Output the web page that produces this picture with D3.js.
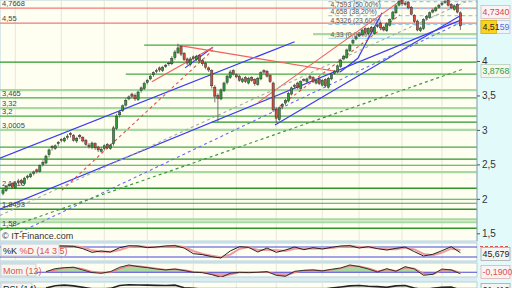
<!DOCTYPE html>
<html>
<head>
<meta charset="utf-8">
<script src="https://cdn.jsdelivr.net/npm/d3@7"></script>
<style>
  html, body { margin: 0; padding: 0; background: #fff; }
  svg { display: block; font-family: "Liberation Sans", Arial, sans-serif; }
</style>
</head>
<body>
<div id="chart"></div>
<script>
// ---- price data (one candle per session) ----
const opens = [2.08,2.12,2.19,2.22,2.16,2.24,2.27,2.22,2.31,2.32,
  2.37,2.42,2.40,2.50,2.52,2.64,2.76,2.73,2.80,2.86,
  2.84,2.89,2.95,2.92,2.84,2.92,2.89,2.85,2.78,2.75,
  2.80,2.75,2.69,2.73,2.79,2.73,2.80,3.02,3.22,3.28,
  3.36,3.45,3.52,3.50,3.44,3.57,3.60,3.69,3.74,3.80,
  3.85,3.90,3.86,3.92,3.96,3.96,4.05,4.12,4.21,4.11,
  4.03,3.95,4.06,4.02,4.08,4.01,3.97,3.90,3.86,3.62,
  3.50,3.45,3.57,3.69,3.76,3.86,3.80,3.78,3.70,3.76,
  3.68,3.76,3.73,3.66,3.74,3.86,3.85,3.79,3.68,3.30,
  3.15,3.34,3.39,3.42,3.52,3.63,3.68,3.60,3.73,3.70,
  3.78,3.76,3.68,3.74,3.65,3.73,3.62,3.74,3.82,3.84,
  3.92,4.03,4.05,4.15,4.26,4.32,4.37,4.38,4.47,4.40,
  4.49,4.40,4.50,4.55,4.49,4.44,4.52,4.61,4.70,4.81,
  4.88,4.82,4.85,4.78,4.66,4.58,4.44,4.47,4.62,4.63,
  4.71,4.73,4.78,4.82,4.85,4.88,4.82,4.75,4.82,4.70];
const closes = [2.13,2.18,2.21,2.17,2.23,2.26,2.23,2.30,2.33,2.36,
  2.39,2.40,2.48,2.53,2.62,2.71,2.74,2.77,2.82,2.85,
  2.88,2.91,2.93,2.85,2.88,2.90,2.84,2.79,2.76,2.81,
  2.74,2.71,2.72,2.77,2.74,2.78,3.03,3.20,3.26,3.35,
  3.43,3.48,3.49,3.45,3.55,3.61,3.67,3.72,3.78,3.83,
  3.86,3.87,3.91,3.94,3.97,4.04,4.13,4.19,4.10,4.02,
  3.97,4.03,4.04,4.07,4.00,3.96,3.91,3.87,3.64,3.49,
  3.46,3.58,3.68,3.78,3.84,3.81,3.77,3.72,3.74,3.70,
  3.75,3.72,3.67,3.75,3.83,3.84,3.78,3.70,3.29,3.17,
  3.32,3.37,3.43,3.53,3.61,3.65,3.62,3.70,3.72,3.74,
  3.75,3.70,3.72,3.67,3.72,3.64,3.75,3.81,3.85,3.93,
  4.01,4.07,4.16,4.23,4.30,4.35,4.39,4.45,4.41,4.47,
  4.42,4.49,4.52,4.48,4.45,4.54,4.60,4.71,4.80,4.86,
  4.83,4.84,4.77,4.68,4.57,4.45,4.48,4.60,4.65,4.70,
  4.74,4.77,4.81,4.84,4.86,4.81,4.77,4.80,4.71,4.51];
const highs = [2.16,2.20,2.24,2.24,2.25,2.29,2.29,2.32,2.35,2.38,
  2.41,2.44,2.50,2.56,2.64,2.73,2.78,2.79,2.84,2.88,
  2.90,2.94,2.97,2.94,2.90,2.94,2.91,2.87,2.81,2.83,
  2.82,2.77,2.75,2.79,2.81,2.80,3.06,3.23,3.29,3.37,
  3.46,3.50,3.54,3.53,3.57,3.63,3.70,3.74,3.80,3.85,
  3.89,3.92,3.93,3.96,3.99,4.07,4.16,4.25,4.23,4.13,
  4.05,4.06,4.08,4.09,4.10,4.03,3.99,3.92,3.88,3.65,
  3.53,3.60,3.70,3.80,3.87,3.88,3.82,3.80,3.76,3.78,
  3.77,3.78,3.75,3.77,3.85,3.88,3.87,3.81,3.70,3.33,
  3.34,3.39,3.45,3.55,3.63,3.67,3.70,3.72,3.75,3.76,
  3.80,3.78,3.74,3.76,3.74,3.75,3.77,3.83,3.87,3.95,
  4.03,4.09,4.18,4.25,4.32,4.37,4.41,4.47,4.49,4.49,
  4.51,4.51,4.54,4.57,4.51,4.56,4.62,4.73,4.82,4.89,
  4.92,4.87,4.87,4.80,4.68,4.60,4.50,4.62,4.67,4.72,
  4.76,4.79,4.83,4.86,4.89,4.91,4.84,4.82,4.84,4.72];
const lows = [2.05,2.10,2.17,2.14,2.14,2.21,2.20,2.20,2.28,2.30,
  2.34,2.37,2.38,2.47,2.50,2.60,2.70,2.71,2.77,2.82,
  2.82,2.86,2.89,2.83,2.81,2.87,2.82,2.77,2.73,2.72,
  2.71,2.68,2.67,2.70,2.72,2.71,2.77,3.00,3.18,3.26,
  3.34,3.43,3.46,3.42,3.42,3.54,3.58,3.66,3.72,3.77,
  3.82,3.84,3.84,3.90,3.93,3.94,4.02,4.10,4.07,4.00,
  3.94,3.92,4.01,4.00,3.97,3.93,3.88,3.84,3.60,3.40,
  3.12,3.43,3.55,3.66,3.74,3.79,3.75,3.70,3.68,3.68,
  3.66,3.70,3.64,3.64,3.72,3.81,3.76,3.68,3.26,3.10,
  3.13,3.30,3.36,3.40,3.50,3.60,3.59,3.58,3.70,3.68,
  3.73,3.68,3.66,3.65,3.63,3.62,3.60,3.72,3.80,3.82,
  3.90,4.01,4.03,4.13,4.24,4.30,4.35,4.36,4.39,4.38,
  4.40,4.38,4.48,4.46,4.43,4.42,4.50,4.59,4.68,4.79,
  4.80,4.80,4.75,4.66,4.55,4.43,4.42,4.45,4.59,4.61,
  4.69,4.71,4.76,4.80,4.83,4.79,4.75,4.73,4.69,4.45];

// month separators (candle index)
const gridIdx = [4, 19, 33, 47, 62, 76, 89, 104, 116, 130, 143];

// horizontal support / resistance levels
const hVals = [4.7668, 4.55, 4.39, 4.23, 3.985, 3.81, 3.578, 3.465, 3.317, 3.20, 3.113, 3.0005,
  2.75, 2.576, 2.488, 2.387, 2.154, 1.994, 1.936, 1.849, 1.703, 1.660, 1.573];
const hFrom = [0, 0, 101, 46, 0, 40, 0, 0, 0, 0, 68, 0, 0, 0, 0, 0, 0, 0, 0, 0, 0, 0, 0];
const hKind = ['res', 'res', 'zone', 'sup', 'major', 'sup', 'zone', 'sup', 'zone', 'sup', 'major', 'zone',
  'sup', 'major', 'sup', 'zone', 'major', 'sup', 'sup', 'major', 'zone', 'zone', 'major'];

// labelled levels on the left
const lvlLabels = ['4,7668', '4,55', '3,465', '3,32', '3,2', '3,0005', '2,1616', '1,8493', '1,58'];
const lvlValues = [4.7668, 4.55, 3.465, 3.32, 3.2, 3.0005, 2.154, 1.849, 1.573];

// fibonacci retracement
const fibVals = [4.8607, 4.7593, 4.658, 4.5326, 4.33];
const fibText = ['4,8607 (61,80%)', '4,7593 (50,00%)', '4,658 (38,20%)', '4,5326 (23,60%)', '4,33 (0,00%)'];
const fibFrom = 106;

// trend lines: [[idx, price], [idx, price]]
const trendLines = [
  { kind: 'blue', pts: [[-1, 2.59], [95, 4.28]] },
  { kind: 'blue', pts: [[-1, 1.85], [149.5, 4.60]] },
  { kind: 'blue', pts: [[88.6, 3.07], [149.5, 4.67]] },
  { kind: 'blue', pts: [[59.3, 3.90], [68.4, 4.20]] },
  { kind: 'blue', pts: [[109.8, 3.84], [115.6, 4.04], [123.5, 4.70]] },
  { kind: 'red', pts: [[56.7, 4.23], [109.8, 3.84]] },
  { kind: 'red', pts: [[83.1, 3.40], [130, 4.89]] },
  { kind: 'red', pts: [[48.5, 3.70], [68.4, 4.20]] },
  { kind: 'redDash', pts: [[19.2, 2.125], [68.4, 4.16]] },
  { kind: 'redDash', pts: [[88.6, 3.29], [129.3, 4.67]] },
  { kind: 'greyDash', pts: [[-1, 1.76], [152, 4.887]] },
  { kind: 'blueDash', pts: [[5.5, 1.515], [149.5, 4.567]] },
  { kind: 'greenDash', pts: [[-1, 1.544], [149.5, 3.8768]] }
];

// indicators
const stochIdx = d3.range(17, 150, 3);
const stochK = [86,86,84,70,48,56,50,76,88,86, 76,80,86,88,74,40,34,22,14,56,
  82,78,50,74,48,62,80,64,76,68, 78,86,88,74,82,70,62,72,80,52, 26,36,58,82,46];
const stochD = [84,86,85,78,60,52,52,62,80,86, 80,78,83,87,80,56,38,28,18,34,
  68,80,62,62,60,56,70,72,70,72, 74,82,87,80,78,76,66,66,76,66, 38,30,46,70,62];
const momIdx = d3.range(14, 150, 3);
const mom = [0.09,0.49,0.62,0.67,0.31,-0.04,-0.13,0.09,0.67,0.98,
  0.76,0.62,0.44,0.31,0.44,0.22,0,-0.04,-0.31,-0.67,
  -0.13,0,-0.04,0,0.09,-0.4,-0.53,0.13,0.27,0.31,
  0.18,0.4,0.58,0.98,0.76,0.44,0.04,0.49,0.13,0.76,
  0.44,-0.4,-0.27,0.44,0.31,-0.19];
const momSig = [0.05,0.3,0.55,0.65,0.45,0.1,-0.08,0.0,0.45,0.85,
  0.85,0.68,0.52,0.36,0.4,0.3,0.08,-0.02,-0.22,-0.55,
  -0.3,-0.05,-0.02,-0.01,0.06,-0.25,-0.48,-0.05,0.2,0.3,
  0.22,0.33,0.52,0.85,0.82,0.55,0.15,0.38,0.2,0.6,
  0.52,-0.15,-0.3,0.25,0.35,-0.05];
const rsi = [72,85,88,84,76,68,66,70,86,90, 89,88,87,86,88,74,70,66,52,50,
  60,64,62,60,66,48,52,62,66,67, 64,72,78,84,86,82,80,76,84,86, 72,62,70,76,78,61];

// ---- layout ----
const W = 512, H = 288;
const plotR = 477;
const main = { top: 0, bot: 241 };
const pStoch = { top: 243, bot: 261 };
const pMom = { top: 263, bot: 277 };
const pRsi = { top: 282, bot: 300 };

const fmt = d => String(d).replace('.', ',');

const svg = d3.select('#chart').append('svg')
  .attr('width', W)
  .attr('height', H);

const defs = svg.append('defs');
function clip(id, y0, y1) {
  defs.append('clipPath').attr('id', id)
    .append('rect').attr('x', 0).attr('y', y0).attr('width', plotR).attr('height', y1 - y0);
}
clip('cMain', main.top, main.bot);
clip('cStoch', pStoch.top, pStoch.bot);
clip('cMom', pMom.top, pMom.bot);
clip('cRsi', pRsi.top, pRsi.bot);
defs.append('clipPath').attr('id', 'cMomUp').append('rect')
  .attr('x', 0).attr('y', pMom.top).attr('width', plotR).attr('height', 272.3 - pMom.top);
defs.append('clipPath').attr('id', 'cMomDn').append('rect')
  .attr('x', 0).attr('y', 272.3).attr('width', plotR).attr('height', pMom.bot - 272.3);

// backgrounds
svg.append('rect').attr('width', W).attr('height', H).attr('fill', '#d9edf3');
svg.append('rect').attr('x', plotR).attr('y', 0).attr('width', W - plotR).attr('height', H).attr('fill', '#e3fafb');
[main, pStoch, pMom, pRsi].forEach(p => {
  svg.append('rect').attr('x', 0).attr('y', p.top).attr('width', plotR).attr('height', p.bot - p.top)
    .attr('fill', '#fefef1').attr('stroke', '#b6d2de').attr('stroke-width', 1);
});

// scales
const x = d3.scaleLinear().domain([0, 149]).range([3, 460.4]);
const y = d3.scaleLinear().domain([1.5, 4]).range([233.3, 61]);
const yS = d3.scaleLinear().domain([0, 100]).range([260.3, 243.7]);
const yM = d3.scaleLinear().domain([-1, 1]).range([279.8, 264.8]);
const yR = d3.scaleLinear().domain([0, 100]).range([301, 283]);

// vertical grid
[[main, 'cMain'], [pStoch, 'cStoch'], [pMom, 'cMom'], [pRsi, 'cRsi']].forEach(([p, c]) => {
  svg.append('g').attr('clip-path', `url(#${c})`).selectAll('line').data(gridIdx).enter().append('line')
    .attr('x1', d => x(d)).attr('x2', d => x(d))
    .attr('y1', p.top).attr('y2', p.bot)
    .attr('stroke', '#e6e6da').attr('stroke-width', 1);
});

const gMain = svg.append('g').attr('clip-path', 'url(#cMain)');

// horizontal levels
const hStyle = {
  res: { c: '#f07a7a', w: 1.2 },
  zone: { c: '#a9d9a3', w: 2.2 },
  sup: { c: '#46a846', w: 1.1 },
  major: { c: '#2c962c', w: 1.3 }
};
gMain.selectAll('line.h').data(hVals).enter().append('line')
  .attr('x1', (d, i) => hFrom[i] ? x(hFrom[i]) : 0)
  .attr('x2', plotR)
  .attr('y1', d => y(d)).attr('y2', d => y(d))
  .attr('stroke', (d, i) => hStyle[hKind[i]].c)
  .attr('stroke-width', (d, i) => hStyle[hKind[i]].w);

// fibonacci levels
gMain.selectAll('line.fib').data(fibVals).enter().append('line')
  .attr('x1', x(fibFrom)).attr('x2', plotR)
  .attr('y1', d => y(d)).attr('y2', d => y(d))
  .attr('stroke', '#8dd0f2').attr('stroke-width', 1.2)
  .attr('stroke-dasharray', (d, i) => i === fibVals.length - 1 ? null : '4,3');
gMain.selectAll('text.fib').data(fibText).enter().append('text')
  .attr('x', x(fibFrom) + 2).attr('y', (d, i) => y(fibVals[i]) - 1.5)
  .attr('font-size', 6.8).attr('fill', '#555').text(d => d);

// trend lines
const tStyle = {
  blue: { c: '#3c3cf0', w: 1.2, dash: null },
  red: { c: '#f06060', w: 1.1, dash: null },
  redDash: { c: '#e05050', w: 1.1, dash: '3,3' },
  greyDash: { c: '#a8a8a8', w: 1.1, dash: '3,3' },
  blueDash: { c: '#6a6af0', w: 1.1, dash: '3,3' },
  greenDash: { c: '#3a9a3a', w: 1.2, dash: '3,3' }
};
const tline = d3.line().x(d => x(d[0])).y(d => y(d[1]));
gMain.selectAll('path.trend').data(trendLines).enter().append('path')
  .attr('d', d => tline(d.pts))
  .attr('fill', 'none')
  .attr('stroke', d => tStyle[d.kind].c)
  .attr('stroke-width', d => tStyle[d.kind].w)
  .attr('stroke-dasharray', d => tStyle[d.kind].dash);

// level labels (left)
gMain.selectAll('text.lvl').data(lvlLabels).enter().append('text')
  .attr('x', 2).attr('y', (d, i) => y(lvlValues[i]) - 2)
  .attr('font-size', 7.5).attr('fill', '#444').text(d => d);

// candles
const candles = closes.map((c, i) => ({ i, o: opens[i], h: highs[i], l: lows[i], c }));
const cg = gMain.selectAll('g.candle').data(candles).enter().append('g');
cg.append('line')
  .attr('x1', d => x(d.i)).attr('x2', d => x(d.i))
  .attr('y1', d => y(d.h)).attr('y2', d => y(d.l))
  .attr('stroke', '#555').attr('stroke-width', 0.8);
cg.append('rect')
  .attr('x', d => x(d.i) - 1.1).attr('width', 2.2)
  .attr('y', d => y(Math.max(d.o, d.c)))
  .attr('height', d => Math.max(0.8, Math.abs(y(d.o) - y(d.c))))
  .attr('fill', d => d.c >= d.o ? '#2f9a3a' : '#d24a3c')
  .attr('stroke', '#333').attr('stroke-width', 0.5);

svg.append('text').attr('x', 2).attr('y', 239).attr('font-size', 9).attr('fill', '#333')
  .text('\u00a9 IT-Finance.com');

// right axis
const axis = svg.append('g').attr('transform', `translate(${plotR},0)`)
  .call(d3.axisRight(y).tickValues([1.5, 2, 2.5, 3, 3.5, 4]).tickSize(3).tickFormat(fmt));
axis.select('.domain').attr('stroke', '#9ab').attr('d', `M0,${main.top}V${main.bot}`);
axis.selectAll('.tick line').attr('stroke', '#555');
axis.selectAll('.tick text').attr('font-size', 10).attr('fill', '#333').attr('x', 5);

function valueBox(yc, label, fill, stroke, color) {
  svg.append('rect').attr('x', 481).attr('y', yc - 6.5).attr('width', 29).attr('height', 13)
    .attr('fill', fill).attr('stroke', stroke).attr('stroke-width', 0.8);
  svg.append('text').attr('x', 482.5).attr('y', yc + 3.2).attr('font-size', 8.8)
    .attr('fill', color).text(label);
}
valueBox(12, '4,7340', '#fbf3f3', '#d9b9b9', '#d04848');
// last price box: highlighted part plus trailing digits
svg.append('rect').attr('x', 481).attr('y', 20.5).attr('width', 29).attr('height', 13)
  .attr('fill', '#eef4fb').attr('stroke', '#b8c8d8').attr('stroke-width', 0.8);
svg.append('rect').attr('x', 481).attr('y', 20.5).attr('width', 15.5).attr('height', 13)
  .attr('fill', '#ffd21a').attr('stroke', '#d8b000').attr('stroke-width', 0.8);
const lp = svg.append('text').attr('x', 482.5).attr('y', 30.2).attr('font-size', 8.8);
lp.append('tspan').attr('fill', '#222').text('4,51');
lp.append('tspan').attr('fill', '#5a6fd0').text('59');
valueBox(71, '3,8768', '#f2f8f0', '#b8ccb8', '#3a9a3a');

// ---- stochastic panel ----
const gS = svg.append('g').attr('clip-path', 'url(#cStoch)');
[80, 20].forEach(v => gS.append('line').attr('x1', 0).attr('x2', plotR)
  .attr('y1', yS(v)).attr('y2', yS(v)).attr('stroke', '#4848e0').attr('stroke-width', 1.1));
const lS = d3.line().x((d, i) => x(stochIdx[i])).y(d => yS(d));
gS.append('path').attr('d', lS(stochD)).attr('fill', 'none').attr('stroke', '#f29a9a').attr('stroke-width', 2);
gS.append('path').attr('d', lS(stochK)).attr('fill', 'none').attr('stroke', '#222').attr('stroke-width', 1);

svg.append('rect').attr('x', 1).attr('y', 244).attr('width', 58).attr('height', 12)
  .attr('fill', '#f6f6f2').attr('stroke', '#c8c8c8').attr('stroke-width', 0.8);
const st = svg.append('text').attr('x', 3).attr('y', 253.5).attr('font-size', 9);
st.append('tspan').attr('fill', '#222').text('%K ');
st.append('tspan').attr('fill', '#e05050').text('%D (14 3 5)');

svg.append('line').attr('x1', 480).attr('x2', 510).attr('y1', 246.5).attr('y2', 246.5)
  .attr('stroke', '#e05050').attr('stroke-dasharray', '3,2');
valueBox(254, '45,679', '#f4f4f2', '#a8a8a8', '#222');

// ---- momentum panel ----
const gM = svg.append('g').attr('clip-path', 'url(#cMom)');
const aM = d3.area().x((d, i) => x(momIdx[i])).y0(yM(0)).y1(d => yM(d));
gM.append('path').attr('d', aM(mom)).attr('fill', '#a8d8a0').attr('clip-path', 'url(#cMomUp)');
gM.append('path').attr('d', aM(mom)).attr('fill', '#e8a4a4').attr('clip-path', 'url(#cMomDn)');
gM.append('line').attr('x1', 35).attr('x2', plotR).attr('y1', yM(0)).attr('y2', yM(0))
  .attr('stroke', '#4848e0').attr('stroke-width', 1.1);
const lM = d3.line().x((d, i) => x(momIdx[i])).y(d => yM(d));
gM.append('path').attr('d', lM(momSig)).attr('fill', 'none').attr('stroke', '#f08080').attr('stroke-width', 1.4);
gM.append('path').attr('d', lM(mom)).attr('fill', 'none').attr('stroke', '#222').attr('stroke-width', 0.9);

svg.append('rect').attr('x', 1).attr('y', 264).attr('width', 35).attr('height', 12)
  .attr('fill', '#f6f6f2').attr('stroke', '#c8c8c8').attr('stroke-width', 0.8);
svg.append('text').attr('x', 3).attr('y', 273.5).attr('font-size', 9).attr('fill', '#e05050').text('Mom (12)');
valueBox(272, '-0,1900', '#fbf3f3', '#e0b0b0', '#e05050');

// ---- RSI panel ----
const gR = svg.append('g').attr('clip-path', 'url(#cRsi)');
gR.append('line').attr('x1', 0).attr('x2', plotR).attr('y1', yR(70)).attr('y2', yR(70))
  .attr('stroke', '#8080e8').attr('stroke-width', 1.5);
gR.append('path').attr('d', d3.line().x((d, i) => x(momIdx[i])).y(d => yR(d))(rsi))
  .attr('fill', 'none').attr('stroke', '#222').attr('stroke-width', 1.6);
svg.append('rect').attr('x', 1).attr('y', 283).attr('width', 31).attr('height', 12)
  .attr('fill', '#f6f6f2').attr('stroke', '#c8c8c8').attr('stroke-width', 0.8);
svg.append('text').attr('x', 3).attr('y', 291.5).attr('font-size', 9).attr('fill', '#222').text('RSI (14)');
valueBox(290, '61,412', '#f4f4f2', '#a8a8a8', '#222');
</script>
</body>
</html>
